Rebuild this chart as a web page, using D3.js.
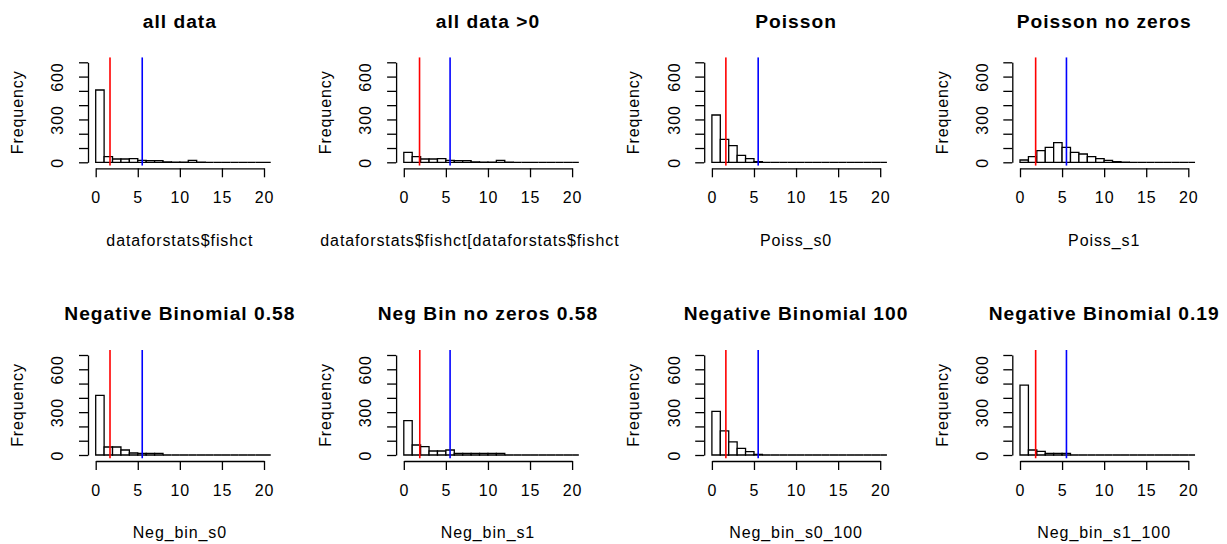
<!DOCTYPE html>
<html>
<head>
<meta charset="utf-8">
<script src="https://cdn.jsdelivr.net/npm/d3@7"></script>
<style>
  html, body { margin: 0; padding: 0; background: #fff; }
  svg { display: block; }
  text { font-family: "Liberation Sans", Arial, sans-serif; fill: #000; }
</style>
</head>
<body>
<svg id="chart" width="1227" height="544"></svg>
<script>
// ---- data ----
const titles = ["all data", "all data >0", "Poisson", "Poisson no zeros",
                "Negative Binomial 0.58", "Neg Bin no zeros 0.58", "Negative Binomial 100", "Negative Binomial 0.19"];
const xLabels = ["dataforstats$fishct", "dataforstats$fishct[dataforstats$fishct > 0]", "Poiss_s0", "Poiss_s1",
                 "Neg_bin_s0", "Neg_bin_s1", "Neg_bin_s0_100", "Neg_bin_s1_100"];
// counts per unit bin starting at 0 (bins [0,1], (1,2], ...)
const countsAllData      = [506, 40, 23, 23, 26, 14, 12, 12, 2, 1, 1, 14, 1, 0, 0, 0, 0, 0, 0, 0, 0, 0];
const countsAllDataPos   = [70, 40, 23, 23, 26, 14, 12, 12, 2, 1, 1, 14, 1, 0, 0, 0, 0, 0, 0, 0, 0, 0];
const countsPoisson      = [331, 161, 117, 49, 26, 5, 0, 0, 0, 0, 0, 0, 0, 0, 0, 0, 0, 0, 0, 0, 0, 0];
const countsPoissonNoZ   = [16, 40, 82, 105, 138, 105, 70, 58, 40, 26, 14, 5, 1, 0, 0, 0, 0, 0, 0, 0, 0, 0];
const countsNegBin058    = [418, 56, 56, 35, 14, 12, 12, 12, 0, 0, 0, 0, 0, 0, 0, 0, 0, 0, 0, 0, 0, 0];
const countsNegBinNoZ058 = [240, 70, 59, 28, 28, 35, 12, 12, 12, 12, 12, 12, 0, 0, 0, 0, 0, 0, 0, 0, 0, 0];
const countsNegBin100    = [305, 169, 92, 47, 23, 5, 0, 0, 0, 0, 0, 0, 0, 0, 0, 0, 0, 0, 0, 0, 0, 0];
const countsNegBin019    = [489, 35, 26, 12, 12, 12, 0, 0, 0, 0, 0, 0, 0, 0, 0, 0, 0, 0, 0, 0, 0, 0];
const redLineX  = [1.7, 1.87, 1.66, 1.86, 1.7, 1.9, 1.66, 1.86];
const blueLineX = [5.53, 5.5, 5.5, 5.52, 5.53, 5.5, 5.5, 5.52];
const xTicks = [0, 5, 10, 15, 20];
const yTicks = [0, 100, 200, 300, 400, 500, 600, 700];
const yTickLabels = [0, 300, 600];
const yLabel = "Frequency";

const allCounts = [countsAllData, countsAllDataPos, countsPoisson, countsPoissonNoZ,
                   countsNegBin058, countsNegBinNoZ058, countsNegBin100, countsNegBin019];

// ---- layout ----
const svg = d3.select("#chart");
svg.append("rect").attr("width", 1227).attr("height", 544).attr("fill", "#fff");
const colStep = 308.1, rowStep = 292.7;
const FS = 16, LS = "0.9px";

allCounts.forEach((counts, i) => {
  const col = i % 4, row = Math.floor(i / 4);
  const ox = col * colStep, oy = row * rowStep;
  const x = d3.scaleLinear().domain([0, 20]).range([ox + 95.7, ox + 264]);
  const y = d3.scaleLinear().domain([0, 700]).range([oy + 162.3, oy + 62.3]);
  const g = svg.append("g");

  const clipId = "clip" + i;
  const regL = x(-0.8), regR = x(20.8), regT = y(700) - 5, regB = y(0) + 3.5;
  svg.append("clipPath").attr("id", clipId).append("rect")
    .attr("x", regL).attr("y", regT).attr("width", regR - regL).attr("height", regB - regT);
  const figClip = "fclip" + i;
  svg.append("clipPath").attr("id", figClip).append("rect")
    .attr("x", ox).attr("y", oy).attr("width", 313).attr("height", rowStep);

  // bars (drawn as closed paths so zero-height bins still show as a line, like R)
  const pg = g.append("g").attr("clip-path", `url(#${clipId})`);
  pg.selectAll("path").data(counts).join("path")
    .attr("d", (d, k) => `M${x(k)},${y(0)}V${y(d)}H${x(k + 1)}V${y(0)}Z`)
    .attr("fill", "#fff").attr("stroke", "#000").attr("stroke-width", 1.3);

  // vertical lines
  pg.append("line").attr("x1", x(redLineX[i])).attr("x2", x(redLineX[i]))
    .attr("y1", regT).attr("y2", regB).attr("stroke", "#ff0000").attr("stroke-width", 1.6);
  pg.append("line").attr("x1", x(blueLineX[i])).attr("x2", x(blueLineX[i]))
    .attr("y1", regT).attr("y2", regB).attr("stroke", "#0000ff").attr("stroke-width", 1.6);

  // x axis
  const xa = g.append("g").attr("transform", `translate(0,${y(0) + 6})`)
    .call(d3.axisBottom(x).tickValues(xTicks).tickSize(9).tickSizeOuter(0).tickPadding(0));
  xa.selectAll("path,line").attr("stroke", "#000").attr("stroke-width", 1.3);
  xa.selectAll("text").attr("font-size", FS).attr("letter-spacing", LS)
    .attr("font-family", "Liberation Sans, Arial, sans-serif")
    .attr("y", 35).attr("dy", 0).attr("fill", "#000");

  // y axis
  const axX = x(0) - 7.7;
  const ya = g.append("g").attr("transform", `translate(${axX},0)`)
    .call(d3.axisLeft(y).tickValues(yTicks).tickSize(9).tickSizeOuter(0)
      .tickFormat(d => yTickLabels.includes(d) ? d : ""));
  ya.selectAll("path,line").attr("stroke", "#000").attr("stroke-width", 1.3);
  ya.selectAll("text").attr("font-size", FS).attr("letter-spacing", LS)
    .attr("font-family", "Liberation Sans, Arial, sans-serif")
    .attr("transform", "rotate(-90)").attr("x", 0).attr("y", 63.3 - 88)
    .attr("dy", 0).attr("text-anchor", "middle").attr("fill", "#000");

  // titles and labels
  const cx = (regL + regR) / 2;
  g.append("text").attr("x", cx).attr("y", oy + 27.7).attr("text-anchor", "middle")
    .attr("font-size", 19.2).attr("font-weight", "bold").attr("letter-spacing", "1px")
    .text(titles[i]);
  g.append("text").attr("x", cx).attr("y", oy + 245.5).attr("text-anchor", "middle")
    .attr("font-size", FS).attr("letter-spacing", LS)
    .attr("clip-path", `url(#${figClip})`)
    .text(xLabels[i]);
  const fy = (y(0) + y(700)) / 2;
  g.append("text").attr("transform", `translate(${ox + 23.2},${fy}) rotate(-90)`)
    .attr("text-anchor", "middle").attr("font-size", FS).attr("letter-spacing", LS)
    .text(yLabel);
});
</script>
</body>
</html>
